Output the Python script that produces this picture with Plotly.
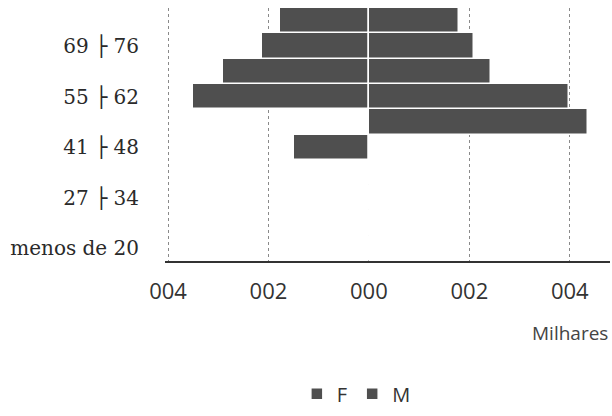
import plotly.graph_objects as go

categories = ["menos de 20", "20 ├ 27", "27 ├ 34", "34 ├ 41", "41 ├ 48",
              "48 ├ 55", "55 ├ 62", "62 ├ 69", "69 ├ 76", "76 ├ 83"]
shown_labels = ["menos de 20", "27 ├ 34", "41 ├ 48", "55 ├ 62", "69 ├ 76"]
female = [0, 0, 0, 0, 1.5, 0, 3.5, 2.9, 2.13, 1.77]
male = [0, 0, 0, 0, 0, 4.36, 3.98, 2.43, 2.1, 1.8]
tick_vals = [-4, -2, 0, 2, 4]
tick_text = ["004", "002", "000", "002", "004"]

bar_color = "#4f4f4f"

fig = go.Figure()
fig.add_trace(go.Bar(y=categories, x=[-v for v in female], orientation="h", name="F",
                     marker=dict(color=bar_color, line=dict(width=1.5, color="white"))))
fig.add_trace(go.Bar(y=categories, x=male, orientation="h", name="M",
                     marker=dict(color=bar_color, line=dict(width=1.5, color="white"))))

fig.update_layout(
    width=612, height=416,
    margin=dict(l=165, r=2, t=8, b=151),
    barmode="relative", bargap=0.0,
    paper_bgcolor="white", plot_bgcolor="white",
    font=dict(family="Open Sans", color="#2a2a2a"),
    showlegend=True,
    legend=dict(orientation="h", x=0.43, xanchor="center", y=-0.525, yanchor="middle",
                font=dict(size=20, family="Open Sans", color="#333"),
                itemwidth=30, traceorder="normal"),
    xaxis=dict(range=[-4.06, 4.8], tickmode="array", tickvals=tick_vals, ticktext=tick_text,
               showgrid=True, gridcolor="#8a8a8a", griddash="dot", gridwidth=1,
               zeroline=True, zerolinecolor="#8a8a8a", zerolinewidth=1,
               showline=True, linecolor="#333", linewidth=1.5,
               ticks="", ticklabelstandoff=10,
               tickfont=dict(size=22, family="Open Sans", color="#333")),
    yaxis=dict(type="category", categoryorder="array", categoryarray=categories,
               tickmode="array", tickvals=shown_labels, ticktext=shown_labels,
               showgrid=False, showline=False,
               ticks="", ticklabelstandoff=25,
               tickfont=dict(size=20, family="DejaVu Serif", color="#2a2a2a")),
)
fig.add_annotation(text="Milhares", xref="paper", yref="paper", x=1.0, y=-0.284,
                   xanchor="right", yanchor="middle", showarrow=False,
                   font=dict(size=19, family="Open Sans", color="#444"))

fig.write_html("out.html")
